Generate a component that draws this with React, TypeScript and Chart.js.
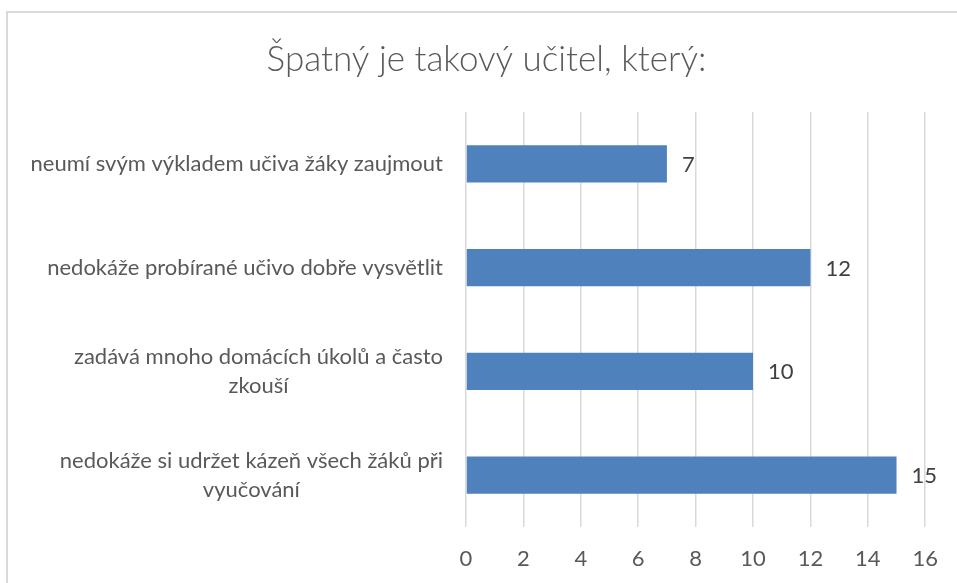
import React, { useEffect, useRef } from "react";
import { Chart, registerables } from "chart.js";

Chart.register(...registerables);

const TITLE = "Špatný je takový učitel, který:";
const categories: string[][] = [
  ["neumí svým výkladem učiva žáky zaujmout"],
  ["nedokáže probírané učivo dobře vysvětlit"],
  ["zadává mnoho domácích úkolů a často", "zkouší"],
  ["nedokáže si udržet kázeň všech žáků při", "vyučování"],
];
const values: number[] = [7, 12, 10, 15];
const xMin = 0;
const xMax = 16;
const xStep = 2;

const FONT = "Lato, 'Open Sans', sans-serif";
const LABEL_SIZE = 22;
const BAR_COLOR = "#4F81BD";
const GRID_COLOR = "#d9d9d9";
const TEXT_COLOR = "#595959";

const framePlugin = {
  id: "frame",
  beforeDraw(chart: any) {
    const ctx = chart.ctx;
    ctx.save();
    ctx.fillStyle = "#ffffff";
    ctx.fillRect(0, 0, chart.width, chart.height);
    ctx.strokeStyle = GRID_COLOR;
    ctx.lineWidth = 2;
    ctx.strokeRect(7, 12, chart.width + 20, chart.height + 20);
    ctx.restore();
  },
};

const labelsPlugin = {
  id: "customLabels",
  afterDatasetsDraw(chart: any) {
    const ctx = chart.ctx;
    const yScale = chart.scales.y;
    const meta = chart.getDatasetMeta(0);
    ctx.save();
    ctx.font = `${LABEL_SIZE}px ${FONT}`;
    ctx.textBaseline = "middle";
    const rightEdge = chart.chartArea.left - 23;
    const lineH = 29;
    categories.forEach((lines, i) => {
      const cy = yScale.getPixelForValue(i);
      const widths = lines.map((l) => ctx.measureText(l).width);
      const blockW = Math.max(...widths);
      const cx = rightEdge - blockW / 2;
      ctx.fillStyle = TEXT_COLOR;
      ctx.textAlign = "center";
      lines.forEach((l, j) => {
        const y = cy + (j - (lines.length - 1) / 2) * lineH;
        ctx.fillText(l, cx, y);
      });
    });
    ctx.fillStyle = "#404040";
    ctx.textAlign = "left";
    meta.data.forEach((bar: any, i: number) => {
      ctx.fillText(String(values[i]), bar.x + 15, bar.y + 1);
    });
    ctx.restore();
  },
};

export default function App() {
  const ref = useRef<HTMLCanvasElement | null>(null);
  useEffect(() => {
    if (!ref.current) return;
    const chart = new Chart(ref.current, {
      type: "bar",
      data: {
        labels: categories.map((c) => c.join(" ")),
        datasets: [
          {
            data: values,
            backgroundColor: BAR_COLOR,
            borderWidth: 0,
            categoryPercentage: 1,
            barPercentage: 0.357,
          },
        ],
      },
      options: {
        indexAxis: "y",
        responsive: false,
        animation: false,
        layout: { padding: { left: 46, right: 30, top: 0, bottom: 0 } },
        plugins: {
          legend: { display: false },
          tooltip: { enabled: false },
          title: {
            display: true,
            text: TITLE,
            color: TEXT_COLOR,
            font: { family: FONT, size: 35, weight: 300 },
            padding: { top: 39, bottom: 31 },
          },
        },
        scales: {
          x: {
            position: "bottom",
            min: xMin,
            max: xMax,
            ticks: {
              stepSize: xStep,
              color: TEXT_COLOR,
              font: { family: FONT, size: LABEL_SIZE },
              padding: 19,
            },
            grid: { color: GRID_COLOR, lineWidth: 1.5, drawTicks: false },
            border: { display: false },
            afterFit: (scale: any) => {
              scale.height = 56;
            },
          },
          y: {
            position: "left",
            ticks: { display: false },
            grid: { display: false, drawTicks: false },
            border: { display: false },
            afterFit: (scale: any) => {
              scale.width = 420;
            },
          },
        },
      },
      plugins: [framePlugin, labelsPlugin],
    });
    return () => chart.destroy();
  }, []);
  return (
    <div style={{ position: "absolute", left: 0, top: 0, width: 957, height: 583, background: "#fff" }}>
      <canvas ref={ref} width={957} height={583} style={{ display: "block" }} />
    </div>
  );
}
